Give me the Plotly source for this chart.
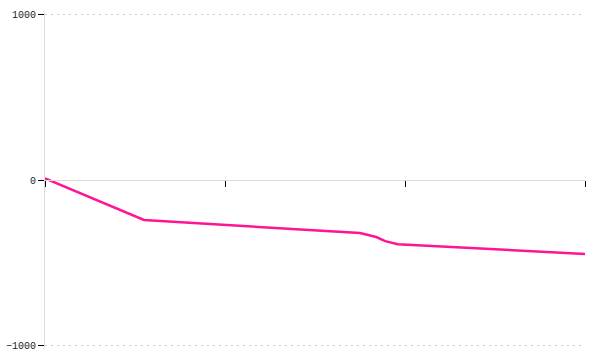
import plotly.graph_objects as go

x_vals = [0, 0.55, 1.75, 1.84, 1.89, 1.96, 3.0]
y_vals = [9, -242, -321, -345, -370, -388, -448]
y_ticks = [-1000, 0, 1000]
x_ticks = [0, 1, 2, 3]
y_range = [-1010, 1010]

fig = go.Figure()
fig.add_trace(go.Scatter(x=x_vals, y=y_vals, mode="lines",
                         line=dict(color="#ff1493", width=2.5), showlegend=False))

font = dict(family="Liberation Mono", size=10, color="#222")
fig.update_layout(
    width=600, height=360,
    margin=dict(l=45, r=15, t=13, b=13),
    plot_bgcolor="white", paper_bgcolor="white",
    font=font,
    xaxis=dict(range=[0, 3], tickvals=x_ticks, showticklabels=False, automargin=False,
               anchor="free", position=0.5, showline=True, linecolor="#ddd", linewidth=1,
               ticks="outside", ticklen=6, tickcolor="#000", tickwidth=1,
               showgrid=False, zeroline=False),
    xaxis2=dict(range=[0, 3], tickvals=x_ticks, showticklabels=False, overlaying="x",
                matches="x", side="top", anchor="free", position=0.5, showline=False,
                automargin=False,
                ticks="outside", ticklen=3, tickcolor="#000", tickwidth=1,
                showgrid=False, zeroline=False),
    yaxis=dict(range=y_range, tickvals=y_ticks, showline=True, linecolor="#ddd",
               linewidth=1, ticks="outside", ticklen=6, tickcolor="#000", tickwidth=1,
               automargin=False,
               showgrid=True, gridcolor="#cfcfcf", griddash="2px,4px", gridwidth=1,
               zeroline=False, tickfont=font),
    yaxis2=dict(range=y_range, tickvals=y_ticks, showticklabels=False, overlaying="y",
                matches="y", side="right", anchor="free", position=0, showline=False,
                automargin=False,
                ticks="outside", ticklen=3, tickcolor="#000", tickwidth=1,
                showgrid=False, zeroline=False),
)
fig.write_html("out.html")
